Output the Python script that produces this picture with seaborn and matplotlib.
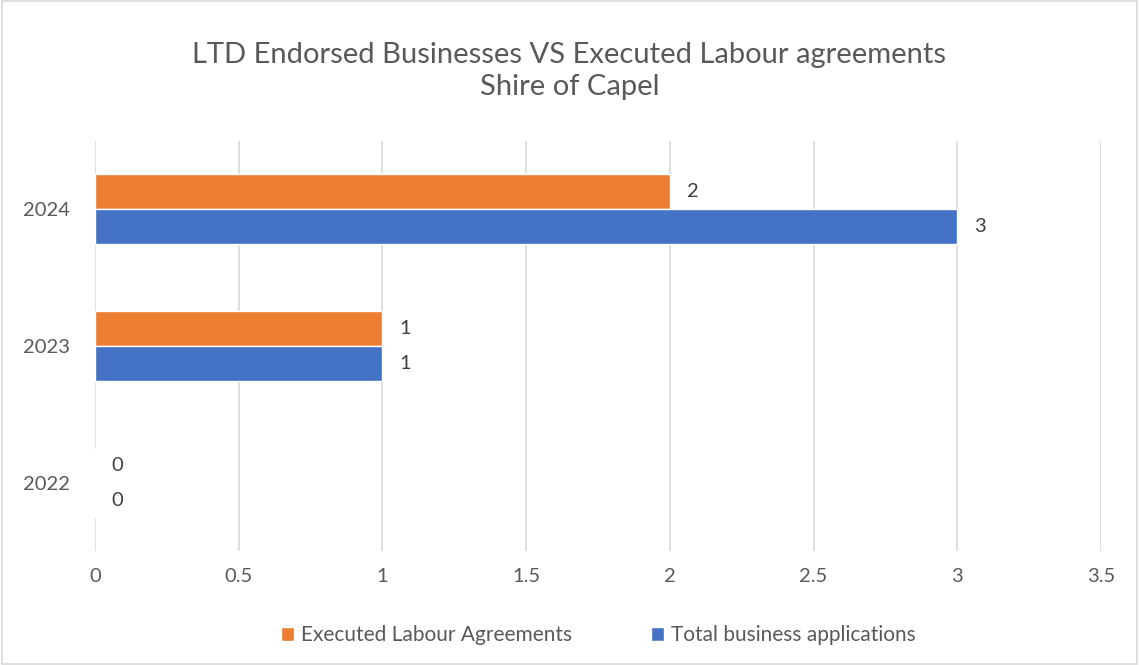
import pandas as pd
import matplotlib.pyplot as plt
import seaborn as sns
from matplotlib.patches import Rectangle

years = ['2024', '2023', '2022']
series = ['Executed Labour Agreements', 'Total business applications']
executed = [2, 1, 0]
total = [3, 1, 0]
colors = ['#ED7D31', '#4472C4']
x_ticks = [0, 0.5, 1, 1.5, 2, 2.5, 3, 3.5]

df = pd.DataFrame({
    'year': years * 2,
    'series': [series[0]] * 3 + [series[1]] * 3,
    'value': executed + total,
})

sns.set_style('white')
plt.rcParams['font.family'] = ['Lato', 'DejaVu Sans']
grey = '#595959'

fig = plt.figure(figsize=(11.39, 6.65), dpi=100)
ax = fig.add_axes([0.0834, 0.1714, 0.8833, 0.6166])

sns.barplot(data=df, x='value', y='year', hue='series', order=years,
            hue_order=series, palette=colors, width=0.51, orient='h',
            ax=ax, saturation=1, legend=True)

for c in ax.containers:
    ax.bar_label(c, padding=12, fontsize=14.5, color='#404040')

ax.set_xlim(0, 3.5)
ax.set_xticks(x_ticks)
ax.set_xticklabels([f'{t:g}' for t in x_ticks])
ax.grid(axis='x', color='#D9D9D9', linewidth=1.2)
ax.set_axisbelow(True)
for s in ax.spines.values():
    s.set_visible(False)
ax.set_xlabel('')
ax.set_ylabel('')
ax.tick_params(axis='both', length=0, labelsize=14.5, labelcolor=grey, pad=12)
ax.tick_params(axis='y', pad=18)

fig.text(0.5, 0.893, 'LTD Endorsed Businesses VS Executed Labour agreements\nShire of Capel',
         ha='center', va='center', fontsize=21, color=grey, linespacing=1.3)

leg = ax.legend(loc='center', bbox_to_anchor=(0.5, -0.205), ncol=2, frameon=False,
                fontsize=15, handlelength=0.65, handleheight=0.65, columnspacing=3.8,
                handletextpad=0.3)
for t in leg.get_texts():
    t.set_color(grey)

fig.patches.append(Rectangle((0.002, 0.002), 0.996, 0.996, transform=fig.transFigure,
                             fill=False, edgecolor='#D9D9D9', linewidth=1.2))

fig.savefig('out.png', dpi=100, facecolor='white')
